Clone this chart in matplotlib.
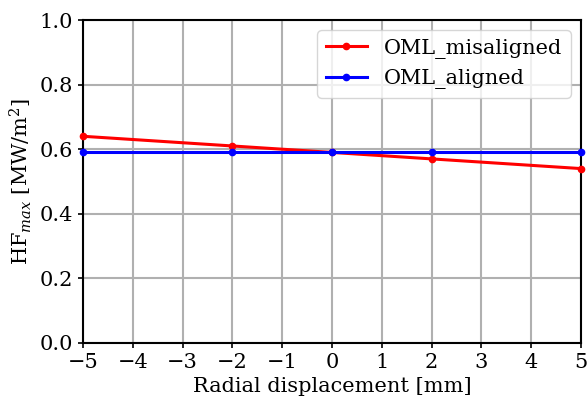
import matplotlib
matplotlib.use("Agg")
import matplotlib.pyplot as plt

plt.rcParams['font.family'] = 'DejaVu Serif'
plt.rcParams['mathtext.fontset'] = 'dejavuserif'
plt.rcParams['font.size'] = 15

# radial displacement [mm] and peak heat flux [MW/m2]
displacement = [-5, -2, 0, 2, 5]
hf_misaligned = [0.64, 0.61, 0.59, 0.57, 0.54]
hf_aligned = [0.59, 0.59, 0.59, 0.59, 0.59]

fig = plt.figure(figsize=(5.87, 4.0), dpi=100)
ax = fig.add_axes([83/587, 57/400, 498/587, 323/400])

ax.plot(displacement, hf_misaligned, color='red', marker='o', markersize=4.5,
        linewidth=2.2, label='OML_misaligned', clip_on=False, zorder=3)
ax.plot(displacement, hf_aligned, color='blue', marker='o', markersize=4.5,
        linewidth=2.2, label='OML_aligned', clip_on=False, zorder=3)

ax.set_xlim(-5, 5)
ax.set_ylim(0, 1)
ax.set_xticks(range(-5, 6))
ax.set_yticks([0.0, 0.2, 0.4, 0.6, 0.8, 1.0])
ax.grid(True, color='#b0b0b0', linewidth=1.5)
ax.set_axisbelow(True)
for s in ax.spines.values():
    s.set_linewidth(1.5)
ax.tick_params(width=1.2)

ax.set_xlabel('Radial displacement [mm]')
ax.set_ylabel(r'HF$_{max}$ [MW/m$^2$]')
ax.legend(loc='upper right')

plt.savefig('out.png', dpi=100)
